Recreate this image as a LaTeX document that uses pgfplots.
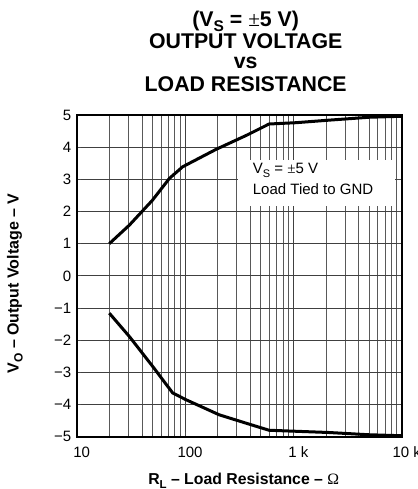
\documentclass[border=0pt]{standalone}
\usepackage{pgfplots}
\pgfplotsset{compat=1.18}
\usepackage{fontspec}
\setmainfont{Liberation Sans}
\newfontfamily\seriffont{Liberation Serif}
\begin{document}
\begin{tikzpicture}
\begin{axis}[
  at={(0,0)}, anchor=south west,
  scale only axis, width=325bp, height=321.7bp,
  xmode=log, xmin=10, xmax=10000, ymin=-5, ymax=5,
  log basis x=10,
  xtick={10,100,1000,10000}, xticklabels={10,100,1 k,10 k},
  minor xtick={20,30,40,50,60,70,80,90,200,300,400,500,600,700,800,900,2000,3000,4000,5000,6000,7000,8000,9000},
  ytick={-5,-4,-3,-2,-1,0,1,2,3,4,5},
  yticklabels={−5,−4,−3,−2,−1,0,1,2,3,4,5},
  xmajorgrids=true, xminorgrids=true, ymajorgrids=true,
  major grid style={black!75, line width=0.7bp},
  minor grid style={black!65, line width=0.7bp},
  tick style={black!70, line width=0.7bp},
  tick align=inside,
  axis line style={line width=2bp},
  tick label style={font=\fontsize{15bp}{18bp}\selectfont},
  xticklabel style={anchor=base, yshift=-21bp, xshift=5bp},
  yticklabel style={xshift=-2bp},
]
\addplot[black, line width=3bp] coordinates {
 (20,1.0) (30.7,1.58) (50,2.35) (71.8,3.03) (95,3.39) (193,3.93)
 (370,4.37) (597,4.72) (1050,4.76) (2140,4.84) (5000,4.93) (10000,4.96)
};
\addplot[black, line width=3bp] coordinates {
 (20,-1.16) (30.7,-1.89) (50.4,-2.82) (76.9,-3.64) (102,-3.85) (207,-4.32)
 (400,-4.62) (597,-4.80) (2140,-4.87) (5000,-4.94) (10000,-4.97)
};
\end{axis}
% annotation box
\fill[white] (161.3bp,230.7bp) rectangle (318.3bp,276.7bp);
\node[anchor=base west, inner sep=0pt, font=\fontsize{15bp}{18bp}\selectfont] at (176bp,262.7bp)
  {V\raisebox{-4bp}{\fontsize{11bp}{11bp}\selectfont S} = {\seriffont ±}5 V};
\node[anchor=base west, inner sep=0pt, font=\fontsize{15bp}{18bp}\selectfont] at (176bp,241.7bp)
  {Load Tied to GND};
% title
\node[anchor=base, inner sep=0pt, font=\fontsize{21.3bp}{24bp}\selectfont\bfseries] at (169bp,410bp)
  {(V\raisebox{-5bp}{\fontsize{15.5bp}{15.5bp}\selectfont S} = {\mdseries\seriffont ±}5 V)};
\node[anchor=base, inner sep=0pt, font=\fontsize{21.3bp}{24bp}\selectfont\bfseries] at (169bp,388.4bp)
  {OUTPUT VOLTAGE};
\node[anchor=base, inner sep=0pt, font=\fontsize{21.3bp}{24bp}\selectfont\bfseries] at (169bp,368.4bp)
  {vs};
\node[anchor=base, inner sep=0pt, font=\fontsize{21.3bp}{24bp}\selectfont\bfseries] at (169bp,345bp)
  {LOAD RESISTANCE};
% axis labels
\node[anchor=base, inner sep=0pt, font=\fontsize{15.8bp}{18bp}\selectfont\bfseries] at (167bp,-47.3bp)
  {R\raisebox{-4bp}{\fontsize{11.5bp}{11.5bp}\selectfont L} – Load Resistance – {\mdseries\seriffont Ω}};
\node[rotate=90, anchor=center, inner sep=0pt, font=\fontsize{16bp}{18bp}\selectfont\bfseries] at (-61.7bp,153.2bp)
  {V\raisebox{-4bp}{\fontsize{12bp}{12bp}\selectfont O} – Output Voltage – V};
\pgfresetboundingbox
\useasboundingbox (-76.7bp,-52.3bp) rectangle (341.3bp,436.7bp);
\end{tikzpicture}
\end{document}
